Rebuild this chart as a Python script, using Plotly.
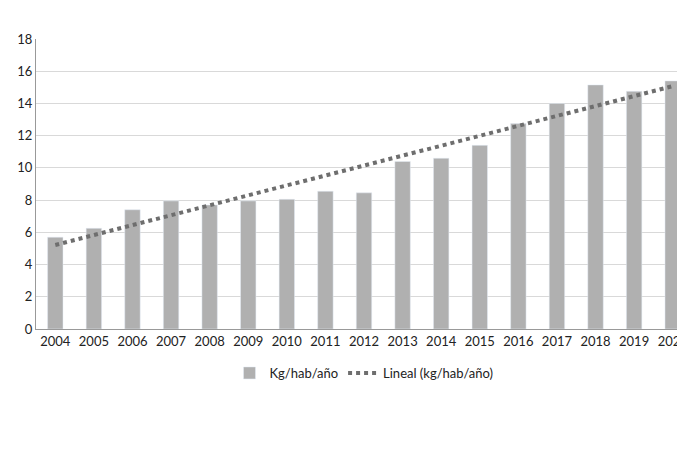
import numpy as np
import plotly.graph_objects as go

years = [str(y) for y in range(2004, 2021)]
values = [5.7, 6.25, 7.4, 7.95, 7.7, 7.95, 8.05, 8.55, 8.45, 10.4, 10.6, 11.4, 12.75, 14.0, 15.15, 14.75, 15.4]

x = np.arange(len(values))
m, b = np.polyfit(x, values, 1)
trend = list(m * x + b)

fig = go.Figure()
fig.add_trace(go.Bar(x=years, y=values, name="Kg/hab/año", marker_color="#b0b0b0", width=0.4))
fig.add_trace(go.Scatter(x=years, y=trend, name="Lineal (kg/hab/año)", mode="lines",
                         line=dict(color="#6e6e6e", width=4, dash="dot")))
fig.update_layout(
    width=685, height=464, plot_bgcolor="white", paper_bgcolor="white",
    margin=dict(l=28, r=1, t=31, b=143, autoexpand=False),
    font=dict(family="Lato, sans-serif", size=13, color="#222"),
    legend=dict(orientation="h", x=0.5, xanchor="center", y=-0.1, yanchor="top",
                font=dict(size=13)),
    xaxis=dict(showline=True, linecolor="#999", tickfont=dict(size=13), ticks="", automargin=False),
    yaxis=dict(range=[0, 18], dtick=2, gridcolor="#d9d9d9", showline=True, linecolor="#999",
               tickfont=dict(size=13), zeroline=False, automargin=False),
)
fig.write_html("out.html")
